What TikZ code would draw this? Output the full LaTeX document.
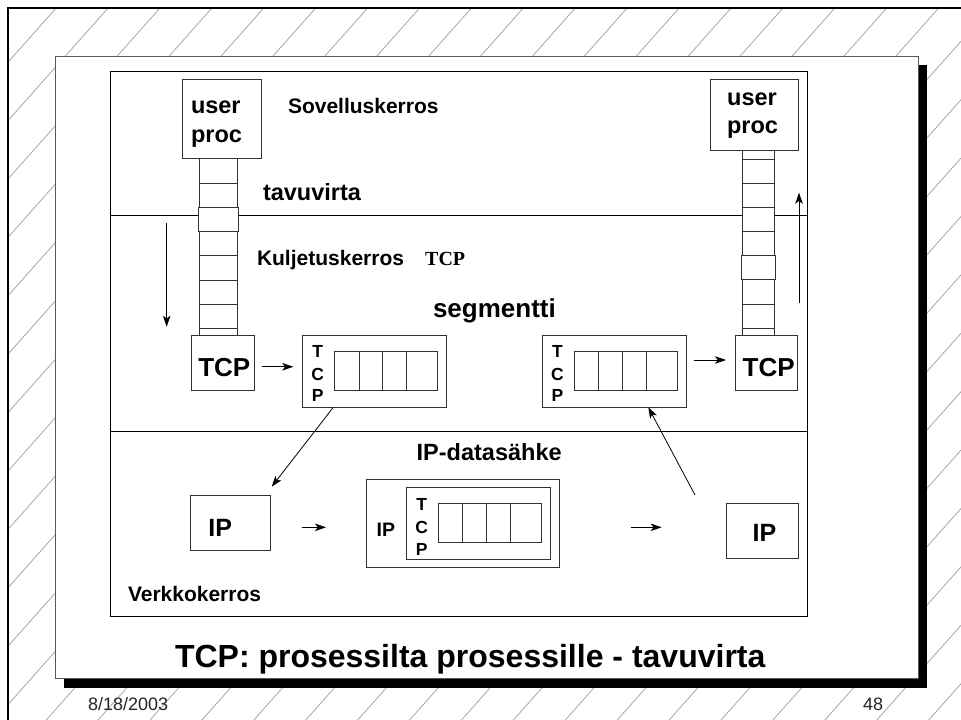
\documentclass[tikz,border=0pt]{standalone}
\usepackage{fontspec}
\setmainfont{Liberation Sans}
\newfontfamily\serifbold{Liberation Serif}
\usetikzlibrary{arrows.meta}
\begin{document}
\begin{tikzpicture}[x=1pt,y=-1pt,
  box/.style={draw=black!80, line width=0.9pt, fill=white, inner sep=0pt, outer sep=0pt, anchor=north west},
  cellbox/.style={draw=black!80, line width=0.9pt, fill=white},
  frameline/.style={draw=black, line width=0.8pt},
  txt/.style={inner sep=0pt, outer sep=0pt, anchor=base west, font=\bfseries\fontsize{#1}{#1}\selectfont},
  ctxt/.style={inner sep=0pt, outer sep=0pt, anchor=base, font=\bfseries\fontsize{#1}{#1}\selectfont},
  foot/.style={inner sep=0pt, outer sep=0pt, anchor=base west, font=\fontsize{18}{18}\selectfont, text=black!85},
  hatch/.style={draw=black!38, line width=0.7pt},
  arr/.style={-{Stealth[length=11pt,width=7.5pt,inset=2.8pt]}, line width=0.8pt}
]
\useasboundingbox (0,0) rectangle (961,720);
\fill[white] (0,0) rectangle (961,720);
% hatching background
\begin{scope}
  \clip (8,8) rectangle (961,720);
  \foreach \k in {-17,...,14} {
    \pgfmathsetmacro\cc{1005.6+58.4*\k}
    \pgfmathsetmacro\xx{\cc/1.125}
    \draw[hatch] (0,\cc) -- (\xx,0);
  }
\end{scope}
% outer border (top and left)
\draw[line width=2pt] (8,720) -- (8,8) -- (961,8);
% slide panel with shadow
\fill[black] (64,65) rectangle (927,688);
\draw[draw=black!65, fill=white, line width=0.9pt] (55,56) rectangle (918,678);
% inner frame and layer dividers
\draw[frameline] (110,71) rectangle (807,616);
\draw[frameline] (110,215) -- (807,215);
\draw[frameline] (110,431) -- (807,431);

% left byte stack
\draw[cellbox] (199,158.7) rectangle (237.7,335);
\foreach \y in {183.3,207.3,231.7,255.7,280,304,328.3}
  \draw[draw=black!80, line width=0.9pt] (199,\y) -- (237.7,\y);
\draw[cellbox] (198.3,207.3) rectangle (238.7,231.7);
% right byte stack
\draw[cellbox] (742.7,150.7) rectangle (774,335);
\foreach \y in {159.3,183.3,207.3,231.7,255.7,279.3,304,328}
  \draw[draw=black!80, line width=0.9pt] (742.7,\y) -- (774,\y);
\draw[cellbox] (741.7,255.7) rectangle (775,279.3);

% boxes
\node[box, minimum width=79pt, minimum height=79.4pt] (upL) at (182.7,79.3) {};
\node[box, minimum width=87.6pt, minimum height=71.4pt] (upR) at (710.7,79.3) {};
\node[box, minimum width=63pt, minimum height=55.7pt] (tcpL) at (191,335) {};
\node[box, minimum width=62.7pt, minimum height=55.7pt] (tcpR) at (735,335) {};
\node[box, minimum width=144.4pt, minimum height=72.3pt] (segL) at (302.3,335) {};
\node[box, minimum width=144.4pt, minimum height=72.3pt] (segR) at (542.3,335) {};
\node[box, minimum width=80.7pt, minimum height=55.7pt] (ipL) at (190,495) {};
\node[box, minimum width=72.7pt, minimum height=55pt] (ipR) at (726,503.3) {};
\node[box, minimum width=193pt, minimum height=88.3pt] (dgram) at (366,479) {};
\node[box, minimum width=144.7pt, minimum height=72pt] (dgramIn) at (406,487.3) {};

% data cells in segments
\draw[cellbox] (334,351) rectangle (437.7,390);
\foreach \x in {359,382.7,406.7} \draw[draw=black!80, line width=0.9pt] (\x,351) -- (\x,390);
\draw[cellbox] (574,351) rectangle (677.7,390);
\foreach \x in {598.3,622.7,646.7} \draw[draw=black!80, line width=0.9pt] (\x,351) -- (\x,390);
\draw[cellbox] (438.3,503.3) rectangle (541.7,542.3);
\foreach \x in {462.3,486.7,510.7} \draw[draw=black!80, line width=0.9pt] (\x,503.3) -- (\x,542.3);

% texts
\node[txt=23.5] (tUser1) at (191,113) {user};
\node[txt=23.5] (tProc1) at (191,142) {proc};
\node[ctxt=23.5] (tUser2) at (752,105) {user};
\node[ctxt=23.5] (tProc2) at (752.5,133.3) {proc};
\node[txt=21] (tSov) at (288,113) {Sovelluskerros};
\node[txt=23.5] (tTav) at (263,200) {tavuvirta};
\node[txt=21] (tKul) at (257,265) {Kuljetuskerros};
\node[inner sep=0pt, anchor=base west, font=\serifbold\bfseries\fontsize{20}{20}\selectfont] (tTcpS) at (425,265) {TCP};
\node[txt=26] (tSeg) at (433,317) {segmentti};
\node[txt=26] (tTcpL) at (198.3,376.7) {TCP};
\node[txt=26] (tTcpR) at (742.7,376.7) {TCP};
\node[ctxt=17.5] (sLT) at (317.7,357.3) {T};
\node[ctxt=17.5] (sLC) at (317.7,380) {C};
\node[ctxt=17.5] (sLP) at (317.7,401.7) {P};
\node[ctxt=17.5] (sRT) at (557.5,357.3) {T};
\node[ctxt=17.5] (sRC) at (557.5,380) {C};
\node[ctxt=17.5] (sRP) at (557.5,401.7) {P};
\node[txt=23.5] (tIPd) at (416.7,460) {IP-datasähke};
\node[txt=25] (tIPL) at (208.3,536.7) {IP};
\node[txt=25] (tIPR) at (752.7,541.7) {IP};
\node[txt=19.5] (tIPin) at (376.7,536.7) {IP};
\node[ctxt=17.5] (dT) at (421.7,510) {T};
\node[ctxt=17.5] (dC) at (421.7,533.3) {C};
\node[ctxt=17.5] (dP) at (421.7,555) {P};
\node[txt=21] (tVerk) at (128,601) {Verkkokerros};
\node[txt=32] (tTitle) at (175,667) {TCP: prosessilta prosessille - tavuvirta};
\node[foot] (tDate) at (88,710) {8/18/2003};
\node[foot] (tPage) at (863,710) {48};

% arrows
\coordinate (dnA) at (166.7,223.3);
\coordinate (dnB) at (166.7,326.7);
\coordinate (upA) at (799,303.3);
\coordinate (upB) at (799,192.7);
\draw[arr] (dnA) -- (dnB);
\draw[arr] (upA) -- (upB);
\draw[arr] ([xshift=7.7pt,yshift=-3.9pt]tcpL.east) -- ([xshift=-9pt,yshift=-3.9pt]tcpL.east -| segL.west);
\draw[arr] ([xshift=7.6pt,yshift=2.85pt]segR.east |- tcpR.west) -- ([xshift=-9pt,yshift=2.85pt]tcpR.west);
\draw[arr] ([xshift=31pt]segL.south west) -- ([xshift=1pt,yshift=8.3pt]ipL.north east);
\draw[arr] ([xshift=-31pt,yshift=8.3pt]ipR.north west) -- ([xshift=106pt]segR.south west);
\draw[arr] ([xshift=31pt,yshift=-4.45pt]ipL.east) -- ([xshift=-40pt,yshift=-4.45pt]ipL.east -| dgram.west);
\draw[arr] ([xshift=71.7pt,yshift=3.5pt]dgram.east |- ipR.west) -- ([xshift=-64.3pt,yshift=3.5pt]ipR.west);
\end{tikzpicture}
\end{document}
